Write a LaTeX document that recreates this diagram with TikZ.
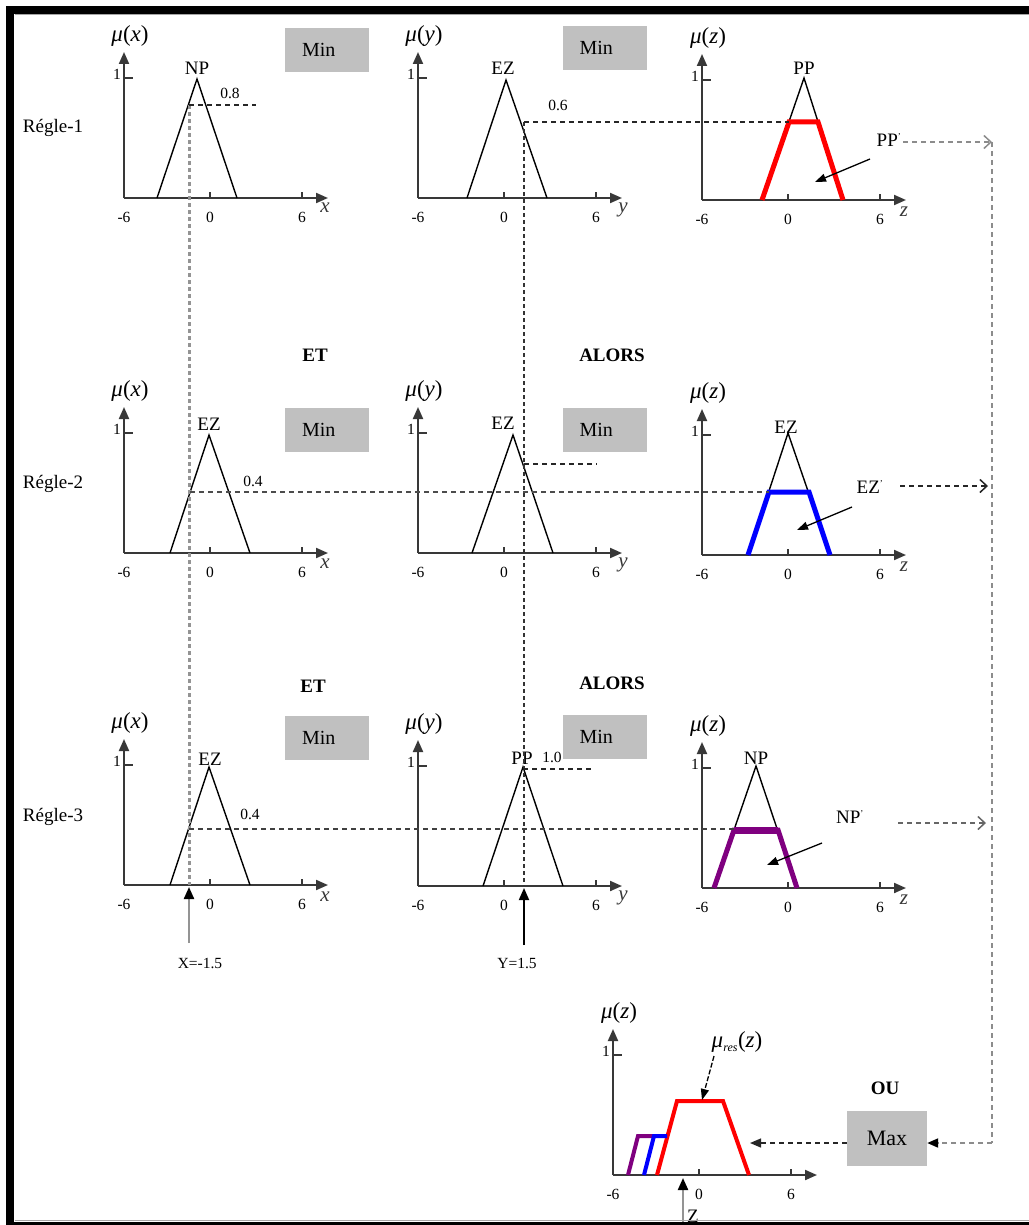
\documentclass[tikz,border=0pt]{standalone}
\usepackage{fontspec}
\setmainfont{Liberation Serif}
\usetikzlibrary{arrows.meta}

\definecolor{boxgray}{HTML}{C0C0C0}
\definecolor{rulepurple}{HTML}{7F007F}
\definecolor{axisgray}{HTML}{383838}
\definecolor{guidegray}{HTML}{949494}

\newcommand{\fzsize}[1]{\fontsize{#1}{#1}\selectfont}

% axes of one membership plot: origin x, origin y, variable, name prefix
\newcommand{\fzaxes}[4]{%
  \draw[axisline] (#1,#2) -- (#1,#2-146);
  \draw[axisline] (#1,#2) -- (#1+204,#2);
  \draw[tickmark] (#1,#2-120) -- (#1+9,#2-120);
  \draw[tickmark] (#1+86,#2) -- (#1+86,#2-6);
  \draw[tickmark] (#1+178,#2) -- (#1+178,#2-6);
  \node[num] (#4-one) at (#1-7,#2-124) {1};
  \node[num] (#4-m6) at (#1,#2+19) {-6};
  \node[num] (#4-z0) at (#1+86,#2+19) {0};
  \node[num] (#4-p6) at (#1+178,#2+19) {6};
  \node[mulab] (#4-mu) at (#1+6,#2-162) {\textit{μ}(\textit{#3})};
}

\tikzset{
  axisline/.style={draw=axisgray, line width=2, -{Triangle[length=12,width=10]}},
  tickmark/.style={draw=axisgray, line width=1.4},
  mf/.style={draw=black, line width=1.4, line join=miter},
  cut/.style={line width=5, line join=miter},
  num/.style={font=\fzsize{15.5}, inner sep=0},
  setlab/.style={font=\fzsize{19}, inner sep=0},
  mulab/.style={font=\fzsize{23}, inner sep=0},
  axlab/.style={font=\fzsize{21}\itshape, inner sep=0, text=axisgray},
  opbox/.style={fill=boxgray, minimum width=84, minimum height=44, inner xsep=17,
    text width=50, align=left, font=\fzsize{20}},
  oplab/.style={font=\fzsize{19}\bfseries, inner sep=0},
  rulelab/.style={font=\fzsize{19}, inner sep=0},
  level/.style={dash pattern=on 5 off 4, line width=1.3, black!85},
  guide/.style={dash pattern=on 4 off 3, line width=3, guidegray},
  yguide/.style={dash pattern=on 4 off 3, line width=1.5, black!80},
  feedgrey/.style={dash pattern=on 5 off 4, line width=2, black!45},
  feedblack/.style={dash pattern=on 5 off 4, line width=1.4, black!85},
  opentip/.style={-{Straight Barb[length=7,width=13,line width=1.5]}},
  pointer/.style={line width=1.3, -{Triangle[length=11,width=8]}},
  input/.style={line width=2.2, -{Triangle[length=12,width=10,fill=black,color=black]}},
}

\begin{document}
\begin{tikzpicture}[x=1pt,y=-1pt]
\useasboundingbox (0,0) rectangle (1028,1225);

% ---------- rule 1 ----------
\node[rulelab] (r1) at (53,128) {Régle-1};
\fzaxes{124}{198}{x}{a1}
\fzaxes{418}{198}{y}{b1}
\fzaxes{702}{200}{z}{c1}
\node[axlab] (a1-var) at (325,208) {x};
\node[axlab] (b1-var) at (623,210) {y};
\node[axlab] (c1-var) at (904,212) {z};
\node[opbox] (min1a) at (327,50) {Min};
\node[opbox] (min1b) at (604.5,48) {Min};

\draw[mf] (157,198) -- (197,79) -- (237,198);
\node[setlab] (np1) at (197,68) {NP};
\draw[mf] (467,198) -- (506,80) -- (547,198);
\node[setlab] (ez1) at (503,68) {EZ};
\draw[mf] (762,200) -- (804,78) -- (843,200);
\node[setlab] (pp1) at (804,68) {PP};
\draw[cut, red] (762,200) -- (789,122) -- (818,122) -- (843,200);

\node[num] (v08) at (230,93) {0.8};
\node[num] (v06) at (558,105) {0.6};
\node[setlab] (pp1c) at (889,140) {PP\textsuperscript{\fzsize{9}'}};
\draw[pointer] (870,159) -- (815,182);

% ---------- rule 2 ----------
\node[rulelab] (r2) at (53,484) {Régle-2};
\node[oplab] (et2) at (315,355) {ET};
\node[oplab] (alors2) at (612,355) {ALORS};
\fzaxes{124}{553}{x}{a2}
\fzaxes{418}{553}{y}{b2}
\fzaxes{702}{555}{z}{c2}
\node[axlab] (a2-var) at (325,564) {x};
\node[axlab] (b2-var) at (623,565) {y};
\node[axlab] (c2-var) at (904,567) {z};
\node[opbox] (min2a) at (327,429.5) {Min};
\node[opbox] (min2b) at (604.5,429.5) {Min};

\draw[mf] (170,553) -- (209,435) -- (250,553);
\node[setlab] (ez2a) at (209,424) {EZ};
\draw[mf] (472,553) -- (513,435) -- (553,553);
\node[setlab] (ez2b) at (503,423) {EZ};
\draw[mf] (748,555) -- (788,433) -- (830,555);
\node[setlab] (ez2c) at (786,427) {EZ};
\draw[cut, blue] (748,555) -- (769,492) -- (809,492) -- (830,555);

\node[num] (v04a) at (253,481) {0.4};
\node[setlab] (ez2d) at (870,487) {EZ\textsuperscript{\fzsize{9}'}};
\draw[pointer] (852,507) -- (797,530);

% ---------- rule 3 ----------
\node[rulelab] (r3) at (53,817) {Régle-3};
\node[oplab] (et3) at (313,686) {ET};
\node[oplab] (alors3) at (612,683) {ALORS};
\fzaxes{124}{885}{x}{a3}
\fzaxes{418}{886}{y}{b3}
\fzaxes{702}{888}{z}{c3}
\node[axlab] (a3-var) at (325,897) {x};
\node[axlab] (b3-var) at (623,898) {y};
\node[axlab] (c3-var) at (904,900) {z};
\node[opbox] (min3a) at (327,737.5) {Min};
\node[opbox] (min3b) at (604.5,737) {Min};

\draw[mf] (170,885) -- (209,767) -- (250,885);
\node[setlab] (ez3) at (210,759) {EZ};
\draw[mf] (483,886) -- (523,767) -- (563,886);
\node[setlab] (pp3) at (522,758) {PP};
\node[num] (v10) at (552,757) {1.0};
\draw[mf] (714,888) -- (756,766) -- (797,888);
\node[setlab] (np3) at (756,758) {NP};
\draw[cut, rulepurple] (714,888) -- (734,830) -- (778,830) -- (797,888);
\draw[rulepurple, line width=7] (734,830) -- (778,830);

\node[num] (v04b) at (250,814) {0.4};
\node[setlab] (np3c) at (850,817) {NP\textsuperscript{\fzsize{9}'}};
\draw[pointer] (822,843) -- (767,865);

% ---------- firing levels ----------
\draw[guide] (189,105) -- (189,885);
\draw[yguide] (524,122) -- (524,886);
\draw[level] (189,105) -- (256,105);
\draw[level] (524,122) -- (789,122);
\draw[level, black!70] (190,492) -- (769,492);
\draw[level] (524,464) -- (597,464);
\draw[level, black!75] (189,829) -- (734,829);
\draw[level] (523,769) -- (593,769);

% ---------- crisp inputs ----------
\coordinate (xin) at (189,943);
\coordinate (yin) at (524,945);
\draw[input, draw=guidegray] (xin) -- (189,887);
\node[num] (xval) at (200,963) {X=-1.5};
\draw[input, draw=black, line width=1.8] (yin) -- (524,888);
\node[num] (yval) at (517,963) {Y=1.5};

% ---------- aggregation ----------
\node[oplab] (ou) at (885,1088) {OU};
\node[fill=boxgray, minimum width=80, minimum height=55, inner sep=0,
      font=\fzsize{22}] (maxbox) at (887,1138.5) {Max};

\coordinate (bus1) at (992,142);
\coordinate (bus2) at (988,486);
\coordinate (bus3) at (986,823);
\coordinate (busend) at (992,1143);
\draw[feedgrey, opentip] (903,142) -- (bus1);
\draw[feedblack, opentip] (900,486) -- (bus2);
\draw[feedgrey, black!60, opentip] (898,823) -- (bus3);
\draw[feedgrey] (bus1) -- (busend);
\draw[feedgrey, -{Triangle[length=11,width=9,fill=black,color=black]}]
  (busend) -- ([yshift=-4.5pt]maxbox.east);
\coordinate (restip) at (750,1143);
\draw[feedblack, -{Triangle[length=11,width=9]}] ([yshift=-4.5pt]maxbox.west) -- (restip);

% result plot
\fzaxes{613}{1175}{z}{d}
\draw[red, line width=4, line join=miter] (657,1175) -- (677,1101) -- (723,1101) -- (749,1175);
\draw[rulepurple, line width=4, line join=miter] (628,1175) -- (638,1136) -- (654,1136);
\draw[blue, line width=4, line join=miter] (644,1175) -- (654,1136) -- (667,1136);
\node[mulab] (mures) at (737,1042) {\textit{μ}\textsubscript{\fzsize{12}\textit{res}}(\textit{z})};
\draw[pointer, dash pattern=on 5 off 2] (714,1056) -- (702,1100);
\coordinate (zin) at (683,1232);
\draw[input, draw=guidegray] (zin) -- (683,1178);
\node[font=\fzsize{19}, anchor=north west, inner sep=0] (zval) at (687,1210) {Z};

% ---------- frame ----------
\draw[black!35, line width=1.5] (14.5,14.5) -- (1040,14.5);
\draw[black!35, line width=1.5] (14.5,1220.5) -- (1040,1220.5);
\draw[line width=8] (10,10) rectangle (1040,1226);
\end{tikzpicture}
\end{document}
